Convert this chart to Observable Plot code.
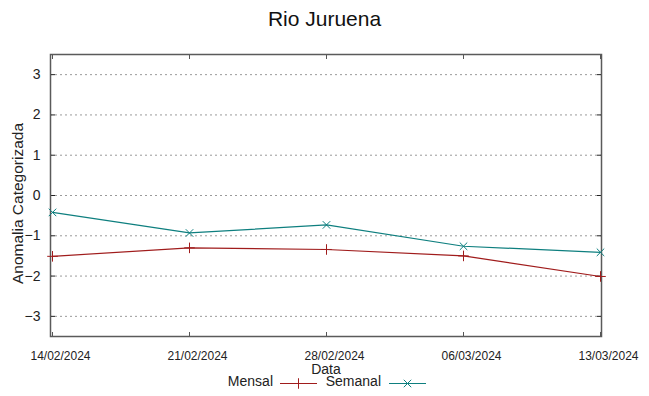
<!DOCTYPE html>
<html>
<head>
<meta charset="utf-8">
<script src="https://cdn.jsdelivr.net/npm/d3@7"></script>
<script src="https://cdn.jsdelivr.net/npm/@observablehq/plot@0.6"></script>
<style>
  html, body { margin: 0; padding: 0; background: #fff; }
  #wrap { position: relative; width: 649px; height: 396px; font-family: "Liberation Sans", Arial, sans-serif; }
  #title { position: absolute; top: 7px; left: 0; width: 649px; text-align: center; font-size: 21px; color: #111; }
  #legend { position: absolute; top: 373px; left: 0; width: 649px; height: 20px; font-size: 14px; color: #222; }
  .lg { position: absolute; top: 0; display: flex; align-items: center; }
</style>
</head>
<body>
<div id="wrap">
  <div id="title">Rio Juruena</div>
  <div id="chart"></div>
  <div id="legend"></div>
</div>
<script>
const dates = ["14/02/2024", "21/02/2024", "28/02/2024", "06/03/2024", "13/03/2024"];
const mensal = [-1.51, -1.30, -1.34, -1.50, -2.01];
const semanal = [-0.42, -0.93, -0.73, -1.26, -1.41];
const yTicks = [-3, -2, -1, 0, 1, 2, 3];
const seriesNames = ["Mensal", "Semanal"];
const seriesColors = ["#a01c1c", "#0e7f7f"];
const seriesSymbols = ["plus", "times"];

const rows = [];
dates.forEach((d, i) => {
  rows.push({date: d, value: mensal[i], serie: seriesNames[0]});
  rows.push({date: d, value: semanal[i], serie: seriesNames[1]});
});

const font = "Liberation Sans, Arial, sans-serif";
const chart = Plot.plot({
  width: 649,
  height: 396,
  marginLeft: 50,
  marginRight: 48,
  marginTop: 54,
  marginBottom: 60,
  style: {fontFamily: font, background: "transparent"},
  x: {type: "point", domain: dates, padding: 0},
  y: {domain: [-3.5, 3.5]},
  color: {domain: seriesNames, range: seriesColors},
  symbol: {domain: seriesNames, range: seriesSymbols},
  marks: [
    Plot.gridY(yTicks, {stroke: "#9a9a9a", strokeOpacity: 1, strokeDasharray: "2,3"}),
    Plot.axisY(yTicks, {anchor: "left", tickSize: 0, tickPadding: 10, fontSize: 14, fill: "#222", label: null}),
    Plot.axisY(yTicks, {anchor: "left", tickSize: 5, dx: 5, text: null, stroke: "#222", label: null}),
    Plot.axisY(yTicks, {anchor: "right", tickSize: 5, dx: -5, text: null, stroke: "#222", label: null}),
    Plot.axisX(dates, {anchor: "bottom", tickSize: 0, tickPadding: 15, dx: 8, fontSize: 12, fill: "#222", label: null}),
    Plot.axisX(dates, {anchor: "bottom", tickSize: 4, dy: -4, text: null, stroke: "#555", label: null}),
    Plot.axisX(dates, {anchor: "top", tickSize: 4, dy: 4, text: null, stroke: "#555", label: null}),
    Plot.frame({stroke: "#5a5a5a", strokeWidth: 1.5}),
    Plot.line(rows, {x: "date", y: "value", stroke: "serie", strokeWidth: 1.2}),
    Plot.dot(rows, {x: "date", y: "value", stroke: "serie", symbol: "serie", r: 3.5, strokeWidth: 1}),
    Plot.text(["Anomalia Categorizada"], {frameAnchor: "left", rotate: -90, dx: -32, dy: 8, text: d => d, fontSize: 15.5, fill: "#222", textAnchor: "middle"}),
    Plot.text(["Data"], {frameAnchor: "bottom", dy: 37, text: d => d, fontSize: 14, fill: "#222"})
  ]
});
document.getElementById("chart").appendChild(chart);

// legend
const legend = document.getElementById("legend");
const legendPos = [{textRight: 273, lineLeft: 280}, {textRight: 381, lineLeft: 389}];
seriesNames.forEach((name, i) => {
  const span = document.createElement("div");
  span.className = "lg";
  span.style.right = (649 - legendPos[i].textRight) + "px";
  span.textContent = name;
  legend.appendChild(span);
  const svg = d3.create("svg").attr("width", 40).attr("height", 20)
    .style("position", "absolute").style("left", legendPos[i].lineLeft + "px").style("top", "0px");
  svg.append("line").attr("x1", 0).attr("x2", 37).attr("y1", 10.5).attr("y2", 10.5)
    .attr("stroke", seriesColors[i]).attr("stroke-width", 1.2);
  const sym = i === 0 ? d3.symbolPlus : d3.symbolTimes;
  svg.append("path").attr("d", d3.symbol(sym, 38)()).attr("transform", "translate(18.5,10.5)")
    .attr("fill", "none").attr("stroke", seriesColors[i]).attr("stroke-width", 1);
  legend.appendChild(svg.node());
});
</script>
</body>
</html>
